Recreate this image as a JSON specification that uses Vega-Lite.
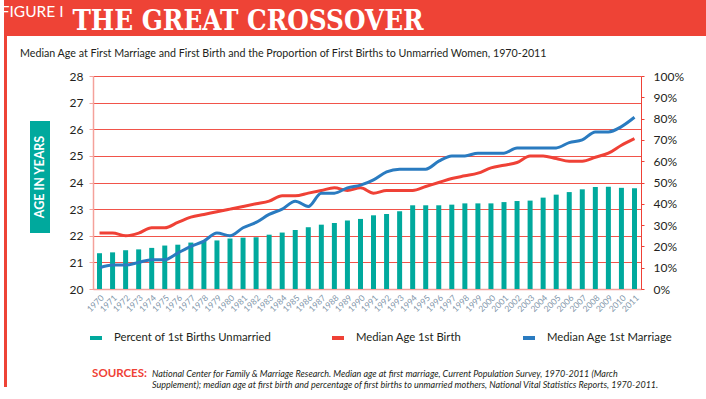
{
  "$schema": "https://vega.github.io/schema/vega-lite/v6.json",
  "padding": 0,
  "background": "white",
  "spacing": 0,
  "bounds": "full",
  "config": {"view": {"stroke": null}, "font": "Lato", "concat": {"spacing": 0}},
  "vconcat": [
    {
      "hconcat": [
        {
          "width": 60, "height": 36,
          "view": {"fill": "#ee4336", "stroke": null},
          "data": {"values": [{"label": "FIGURE I."}]},
          "mark": {"type": "text", "color": "white", "font": "Lato", "fontSize": 15.5, "baseline": "alphabetic", "dy": -1.5},
          "encoding": {"text": {"field": "label"}}
        },
        {
          "width": 368, "height": 36,
          "view": {"fill": "#ee4336", "stroke": null},
          "data": {"values": [{"label": "THE GREAT CROSSOVER"}]},
          "mark": {"type": "text", "color": "white", "font": "DejaVu Serif Condensed, DejaVu Serif", "fontWeight": "bold", "fontSize": 27.5, "baseline": "alphabetic", "dy": 11.5},
          "encoding": {"text": {"field": "label"}}
        },
        {
          "width": 278, "height": 36,
          "view": {"fill": "#ee4336", "stroke": null},
          "data": {"values": []},
          "mark": "text"
        }
      ],
      "spacing": 0, "bounds": "flush"
    },
    {
      "hconcat": [
        {
          "width": 3, "height": 351,
          "view": {"fill": "#ee4336", "stroke": null},
          "data": {"values": []},
          "mark": "text"
        },
        {
          "vconcat": [
            {
              "width": 26, "height": 34,
              "data": {"values": [{"label": "Median Age at First Marriage and First Birth and the Proportion of First Births to Unmarried Women, 1970-2011"}]},
              "mark": {"type": "text", "color": "#231f20", "font": "Lato", "fontSize": 10.7, "align": "left", "baseline": "alphabetic", "dy": 4},
              "encoding": {"text": {"field": "label"}}
            },
            {
              "hconcat": [
                {"width": 23, "height": 213, "data": {"values": []}, "mark": "text"},
                {
                  "vconcat": [
                    {"width": 20, "height": 45, "data": {"values": []}, "mark": "text"},
                    {
                      "width": 20, "height": 112,
                      "view": {"fill": "#00a99d", "stroke": null},
                      "data": {"values": [{"label": "AGE IN YEARS"}]},
                      "mark": {"type": "text", "color": "white", "font": "Lato", "fontWeight": "bold", "fontSize": 12.5, "angle": 270, "align": "center", "baseline": "middle"},
                      "encoding": {"text": {"field": "label"}}
                    }
                  ],
                  "spacing": 0, "bounds": "flush"
                },
                {"width": 19, "height": 213, "data": {"values": []}, "mark": "text"},
                {
                  "width": 548, "height": 213,
                  "view": {"stroke": null},
                  "data": {"values": [
                    {"year": "1970", "pct": 16.8, "birth": 22.1, "marriage": 20.8},
                    {"year": "1971", "pct": 17.2, "birth": 22.1, "marriage": 20.9},
                    {"year": "1972", "pct": 18.2, "birth": 22.0, "marriage": 20.9},
                    {"year": "1973", "pct": 18.6, "birth": 22.1, "marriage": 21.0},
                    {"year": "1974", "pct": 19.3, "birth": 22.3, "marriage": 21.1},
                    {"year": "1975", "pct": 20.4, "birth": 22.3, "marriage": 21.1},
                    {"year": "1976", "pct": 20.8, "birth": 22.5, "marriage": 21.35},
                    {"year": "1977", "pct": 21.8, "birth": 22.7, "marriage": 21.6},
                    {"year": "1978", "pct": 22.5, "birth": 22.8, "marriage": 21.8},
                    {"year": "1979", "pct": 22.8, "birth": 22.9, "marriage": 22.1},
                    {"year": "1980", "pct": 23.7, "birth": 23.0, "marriage": 22.0},
                    {"year": "1981", "pct": 24.1, "birth": 23.1, "marriage": 22.3},
                    {"year": "1982", "pct": 24.3, "birth": 23.2, "marriage": 22.5},
                    {"year": "1983", "pct": 25.5, "birth": 23.3, "marriage": 22.8},
                    {"year": "1984", "pct": 26.5, "birth": 23.5, "marriage": 23.0},
                    {"year": "1985", "pct": 27.7, "birth": 23.5, "marriage": 23.3},
                    {"year": "1986", "pct": 29.0, "birth": 23.6, "marriage": 23.1},
                    {"year": "1987", "pct": 30.2, "birth": 23.7, "marriage": 23.6},
                    {"year": "1988", "pct": 31.0, "birth": 23.8, "marriage": 23.6},
                    {"year": "1989", "pct": 32.2, "birth": 23.7, "marriage": 23.8},
                    {"year": "1990", "pct": 32.9, "birth": 23.8, "marriage": 23.9},
                    {"year": "1991", "pct": 34.6, "birth": 23.6, "marriage": 24.1},
                    {"year": "1992", "pct": 35.2, "birth": 23.7, "marriage": 24.4},
                    {"year": "1993", "pct": 36.5, "birth": 23.7, "marriage": 24.5},
                    {"year": "1994", "pct": 39.3, "birth": 23.7, "marriage": 24.5},
                    {"year": "1995", "pct": 39.3, "birth": 23.85, "marriage": 24.5},
                    {"year": "1996", "pct": 39.3, "birth": 24.0, "marriage": 24.8},
                    {"year": "1997", "pct": 39.6, "birth": 24.15, "marriage": 25.0},
                    {"year": "1998", "pct": 40.2, "birth": 24.25, "marriage": 25.0},
                    {"year": "1999", "pct": 40.2, "birth": 24.35, "marriage": 25.1},
                    {"year": "2000", "pct": 40.2, "birth": 24.55, "marriage": 25.1},
                    {"year": "2001", "pct": 40.8, "birth": 24.65, "marriage": 25.1},
                    {"year": "2002", "pct": 41.3, "birth": 24.75, "marriage": 25.3},
                    {"year": "2003", "pct": 41.5, "birth": 25.0, "marriage": 25.3},
                    {"year": "2004", "pct": 42.9, "birth": 25.0, "marriage": 25.3},
                    {"year": "2005", "pct": 44.3, "birth": 24.9, "marriage": 25.3},
                    {"year": "2006", "pct": 45.5, "birth": 24.8, "marriage": 25.5},
                    {"year": "2007", "pct": 46.8, "birth": 24.8, "marriage": 25.6},
                    {"year": "2008", "pct": 47.9, "birth": 24.95, "marriage": 25.9},
                    {"year": "2009", "pct": 48.0, "birth": 25.1, "marriage": 25.9},
                    {"year": "2010", "pct": 47.5, "birth": 25.4, "marriage": 26.1},
                    {"year": "2011", "pct": 47.3, "birth": 25.65, "marriage": 26.45}
                  ]},
                  "encoding": {
                    "x": {
                      "field": "year", "type": "ordinal",
                      "scale": {"paddingInner": 0, "paddingOuter": 0},
                      "axis": {"title": null, "labelAngle": -45, "labelFont": "Lato", "labelFontSize": 8.5, "labelColor": "#8196aa", "domainColor": "#f4a19b", "domainWidth": 1.5, "ticks": false, "labelPadding": 4}
                    }
                  },
                  "layer": [
                    {
                      "mark": {"type": "bar", "width": 5},
                      "encoding": {
                        "y": {
                          "field": "pct", "type": "quantitative",
                          "scale": {"domain": [0, 100], "nice": false},
                          "axis": {"orient": "right", "title": null, "values": [0, 10, 20, 30, 40, 50, 60, 70, 80, 90, 100], "labelExpr": "datum.value + '%'", "grid": false, "domainColor": "#ef4136", "tickColor": "#ef4136", "tickSize": 3, "labelPadding": 9, "labelFont": "Lato", "labelFontSize": 12, "labelColor": "#231f20"}
                        },
                        "color": {
                          "datum": "Percent of 1st Births Unmarried",
                          "scale": {"domain": ["Percent of 1st Births Unmarried", "Median Age 1st Birth", "Median Age 1st Marriage"], "range": ["#00a99d", "#ef4136", "#2a7bc0"]},
                          "legend": {
                            "orient": "none", "legendX": -5, "legendY": 254, "direction": "horizontal", "title": null, "padding": 0,
                            "labelFont": "Lato", "labelFontSize": 11.3, "labelColor": "#231f20", "labelOffset": 10,
                            "symbolType": "stroke", "symbolSize": 144, "symbolStrokeWidth": 4, "columnPadding": 53,
                            "encode": {"symbols": {"update": {"stroke": {"scale": "color", "field": "value"}, "strokeWidth": {"value": 4}, "shape": {"value": "stroke"}, "size": {"value": 144}}}}
                          }
                        }
                      }
                    },
                    {
                      "layer": [
                        {
                          "mark": {"type": "line", "strokeWidth": 3, "interpolate": "monotone"},
                          "encoding": {
                            "y": {
                              "field": "birth", "type": "quantitative",
                              "scale": {"domain": [20, 28], "nice": false, "zero": false},
                              "axis": {"orient": "left", "title": null, "values": [20, 21, 22, 23, 24, 25, 26, 27, 28], "grid": true, "gridColor": "#ef4136", "gridWidth": 1, "gridOpacity": 0.9, "domainColor": "#f4a19b", "domainWidth": 1.5, "tickColor": "#f4a19b", "tickSize": 4, "labelPadding": 6, "labelFont": "Lato", "labelFontSize": 12, "labelColor": "#231f20"}
                            },
                            "color": {"datum": "Median Age 1st Birth"}
                          }
                        },
                        {
                          "mark": {"type": "line", "strokeWidth": 3, "interpolate": "monotone"},
                          "encoding": {
                            "y": {
                              "field": "marriage", "type": "quantitative",
                              "axis": {"orient": "left", "title": null, "values": [20, 21, 22, 23, 24, 25, 26, 27, 28], "grid": true, "gridColor": "#ef4136", "gridWidth": 1, "gridOpacity": 0.9, "domainColor": "#f4a19b", "domainWidth": 1.5, "tickColor": "#f4a19b", "tickSize": 4, "labelPadding": 6, "labelFont": "Lato", "labelFontSize": 12, "labelColor": "#231f20"}
                            },
                            "color": {"datum": "Median Age 1st Marriage"}
                          }
                        }
                      ]
                    }
                  ],
                  "resolve": {"scale": {"y": "independent"}}
                }
              ],
              "spacing": 0, "bounds": "full",
              "resolve": {"scale": {"color": "independent"}}
            },
            {
              "width": 285, "height": 44,
              "data": {"values": [{"head": "SOURCES:", "body": ["National Center for Family & Marriage Research. Median age at first marriage, Current Population Survey, 1970-2011 (March", "Supplement); median age at first birth and percentage of first births to unmarried mothers, National Vital Statistics Reports, 1970-2011."]}]},
              "layer": [
                {
                  "mark": {"type": "text", "color": "#ef4136", "font": "Lato", "fontWeight": "bold", "fontSize": 11.5, "align": "right", "baseline": "alphabetic", "dx": -2.5, "dy": 9},
                  "encoding": {"text": {"field": "head"}}
                },
                {
                  "mark": {"type": "text", "color": "#231f20", "font": "Lato", "fontStyle": "italic", "fontSize": 9, "lineHeight": 11, "align": "left", "baseline": "alphabetic", "dx": 2.5, "dy": 9},
                  "encoding": {"text": {"field": "body"}}
                }
              ]
            }
          ],
          "spacing": 0, "bounds": "full"
        }
      ],
      "spacing": 0, "bounds": "full"
    }
  ]
}
